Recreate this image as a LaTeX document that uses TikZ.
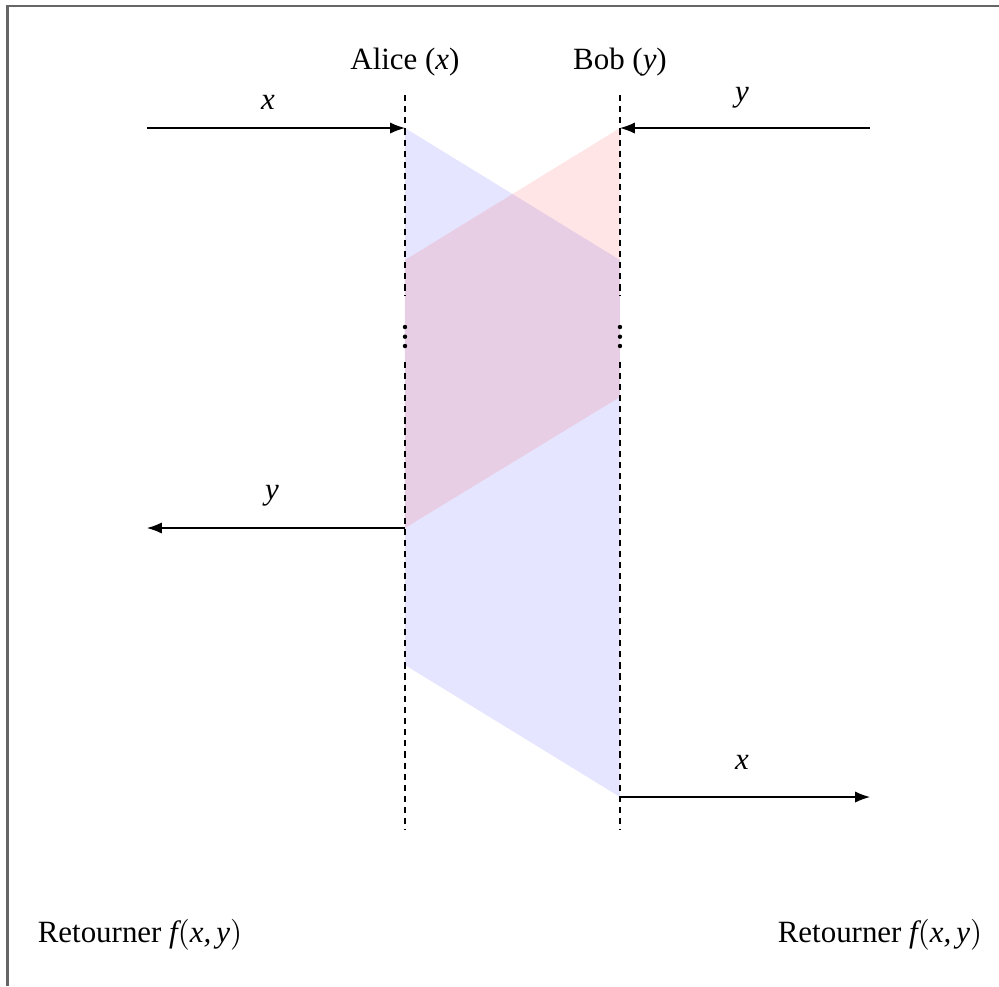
\documentclass[tikz,border=0pt]{standalone}
\usepackage{fontspec}
\setmainfont{Liberation Serif}
\DeclareSymbolFont{letters}{TU}{\rmdefault}{m}{it}
\mathcode`\,="612C
\usetikzlibrary{arrows.meta, calc}

\begin{document}
\begin{tikzpicture}[
        >=Latex,
        x=1cm, y=-1cm,
        lane/.style={dashed, dash pattern=on 2pt off 1.6pt},
        msg/.style={->},
        alicefill/.style={fill=blue, fill opacity=0.1},
        bobfill/.style={fill=red, fill opacity=0.1},
        dot/.style={fill=black}
    ]

        % === DEFINITIONS & COORDINATES ===
        \def\xA{4.602}   % Alice's line
        \def\xB{7.045}   % Bob's line
        \def\xL{1.670}   % left end of the messages
        \def\xR{9.886}   % right end of the messages

        \useasboundingbox (0,0) rectangle (11.352,11.205);

        \coordinate (AliceTop) at (\xA, 1.080);
        \coordinate (AliceGapA) at (\xA, 3.360);
        \coordinate (AliceGapB) at (\xA, 4.110);
        \coordinate (AliceBot) at (\xA, 9.432);
        \coordinate (BobTop) at (\xB, 1.080);
        \coordinate (BobGapA) at (\xB, 3.360);
        \coordinate (BobGapB) at (\xB, 4.110);
        \coordinate (BobBot) at (\xB, 9.432);

        \coordinate (A1) at (\xA, 1.455);
        \coordinate (A2) at (\xA, 2.955);
        \coordinate (A3) at (\xA, 6.000);
        \coordinate (A4) at (\xA, 7.557);
        \coordinate (B1) at (\xB, 1.455);
        \coordinate (B2) at (\xB, 2.955);
        \coordinate (B3) at (\xB, 4.511);
        \coordinate (B4) at (\xB, 9.057);

        \coordinate (InX) at (\xL, 1.455);
        \coordinate (InY) at (\xR, 1.455);
        \coordinate (OutY) at (\xL, 6.000);
        \coordinate (OutX) at (\xR, 9.057);

        % === 0. FRAME ===
        \draw[black!60, line width=0.7pt] (0.085,11.205) -- (0.085,0.068) -- (11.352,0.068);

        % === 1. SHADED EXCHANGES ===
        \fill[alicefill] (A1) -- (B2) -- (B4) -- (A4) -- cycle;
        \fill[bobfill] (B1) -- (A2) -- (A3) -- (B3) -- cycle;

        % === 2. PARTIES ===
        \node (Alice) at (\xA, 0.705) {Alice ($x$)};
        \node (Bob) at (\xB, 0.705) {Bob ($y$)};

        \draw[lane] (AliceTop) -- (AliceGapA);
        \draw[lane] (AliceGapB) -- (AliceBot);
        \draw[lane] (BobTop) -- (BobGapA);
        \draw[lane] (BobGapB) -- (BobBot);

        % the elided rounds
        \foreach \y in {3.716, 3.826, 3.932} {
            \fill[dot] (\xA, \y) circle (0.025);
            \fill[dot] (\xB, \y) circle (0.025);
        }

        % === 3. MESSAGES ===
        \draw[msg] (InX) -- (A1);
        \draw[msg] (InY) -- (B1);
        \draw[msg] (A3) -- (OutY);
        \draw[msg] (B4) -- (OutX);

        \node (LblInX) at (3.045, 1.159) {$x$};
        \node (LblInY) at (8.432, 1.114) {$y$};
        \node (LblOutY) at (3.090, 5.636) {$y$};
        \node (LblOutX) at (8.432, 8.659) {$x$};

        % === 4. RESULTS ===
        \node (RetAlice) at (1.591, 10.625) {Retourner $f(x,y)$};
        \node (RetBob) at (10.000, 10.625) {Retourner $f(x,y)$};

    \end{tikzpicture}
\end{document}
